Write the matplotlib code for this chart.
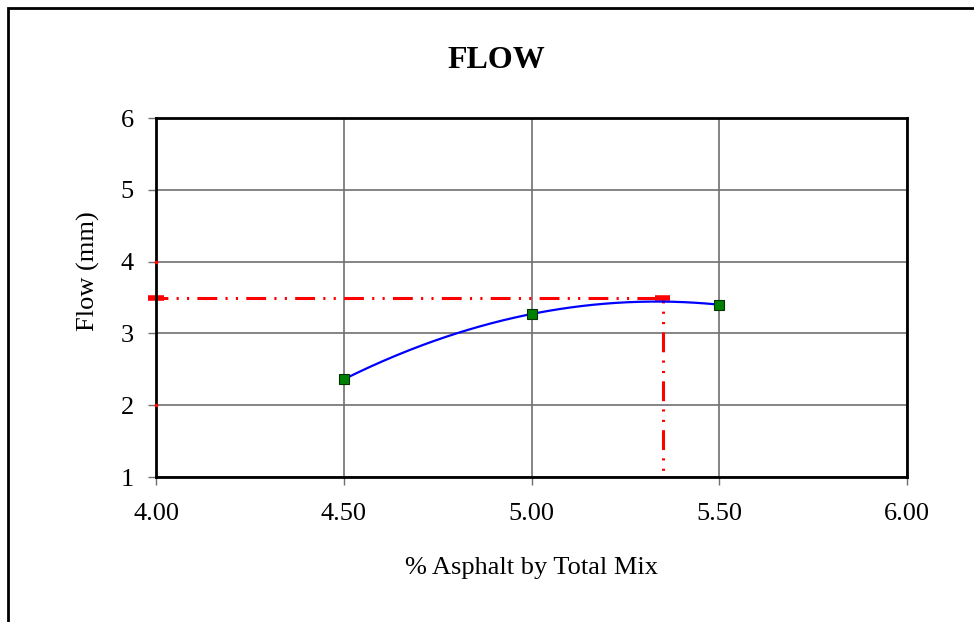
import numpy as np
import matplotlib.pyplot as plt
from matplotlib.patches import Rectangle

# data
asphalt = [4.5, 5.0, 5.5]
flow = [2.36, 3.27, 3.40]
design_flow = 3.5
design_asphalt = 5.35
x_ticks = [4.0, 4.5, 5.0, 5.5, 6.0]
y_ticks = [1, 2, 3, 4, 5, 6]

plt.rcParams['font.family'] = ['Liberation Serif', 'DejaVu Serif']

fig = plt.figure(figsize=(9.74, 6.22), dpi=100)
fig.patches.append(Rectangle((8 / 974, -0.1), 1.2, 1 - 8 / 622 + 0.1,
                             transform=fig.transFigure, fill=False,
                             edgecolor='black', linewidth=2))
ax = fig.add_axes([156 / 974, 1 - 477 / 622, 751 / 974, 359 / 622])

# polynomial trendline (2nd order) through the points
coef = np.polyfit(asphalt, flow, 2)
xs = np.linspace(asphalt[0], asphalt[-1], 200)
ax.plot(xs, np.polyval(coef, xs), color='blue', lw=1.6, zorder=3)
ax.plot(asphalt, flow, ls='none', marker='s', markersize=7,
        markerfacecolor='#008000', markeredgecolor='#003300',
        markeredgewidth=0.8, zorder=4)

# design lines
dash = (6.5, 2.7, 0.7, 2.7, 0.7, 2.7)
ax.plot([3.979, design_asphalt + 0.02], [design_flow, design_flow],
        color='red', lw=2.2, ls=(0, dash), clip_on=False, zorder=2)
ax.plot([design_asphalt, design_asphalt], [design_flow, 1],
        color='red', lw=2.2, ls=(4.9, dash), zorder=2)
ax.plot([3.979, 4.02], [design_flow, design_flow], color='red', lw=4,
        solid_capstyle='butt', clip_on=False, zorder=2)
ax.plot([design_asphalt - 0.02, design_asphalt + 0.02],
        [design_flow, design_flow], color='red', lw=4,
        solid_capstyle='butt', zorder=2)
ax.plot([4.0, 4.0], [4, 2], ls='none', marker='s', markersize=2,
        color='red', clip_on=False, zorder=5)

ax.set_xlim(4.0, 6.0)
ax.set_ylim(1, 6)
ax.set_xticks(x_ticks)
ax.set_xticklabels(['%.2f' % v for v in x_ticks])
ax.set_yticks(y_ticks)
ax.grid(True, color='#707070', lw=1.2)
for s in ax.spines.values():
    s.set_linewidth(2)
ax.tick_params(direction='out', length=6, width=1, color='#707070',
               labelsize=19, pad=10)
ax.tick_params(axis='x', pad=13)

fig.text(496 / 974, 1 - 61 / 622, 'FLOW', fontsize=23, fontweight='bold',
         ha='center', va='center')
ax.set_xlabel('% Asphalt by Total Mix', fontsize=19)
ax.set_ylabel('Flow (mm)', fontsize=19)
ax.xaxis.set_label_coords(0.5, -(568 - 477) / 359)
ax.yaxis.set_label_coords(-(156 - 88) / 751, (477 - 271) / 359)
ax.xaxis.label.set_va('center')
ax.yaxis.label.set_va('center')

fig.savefig('out.png', dpi=100)
